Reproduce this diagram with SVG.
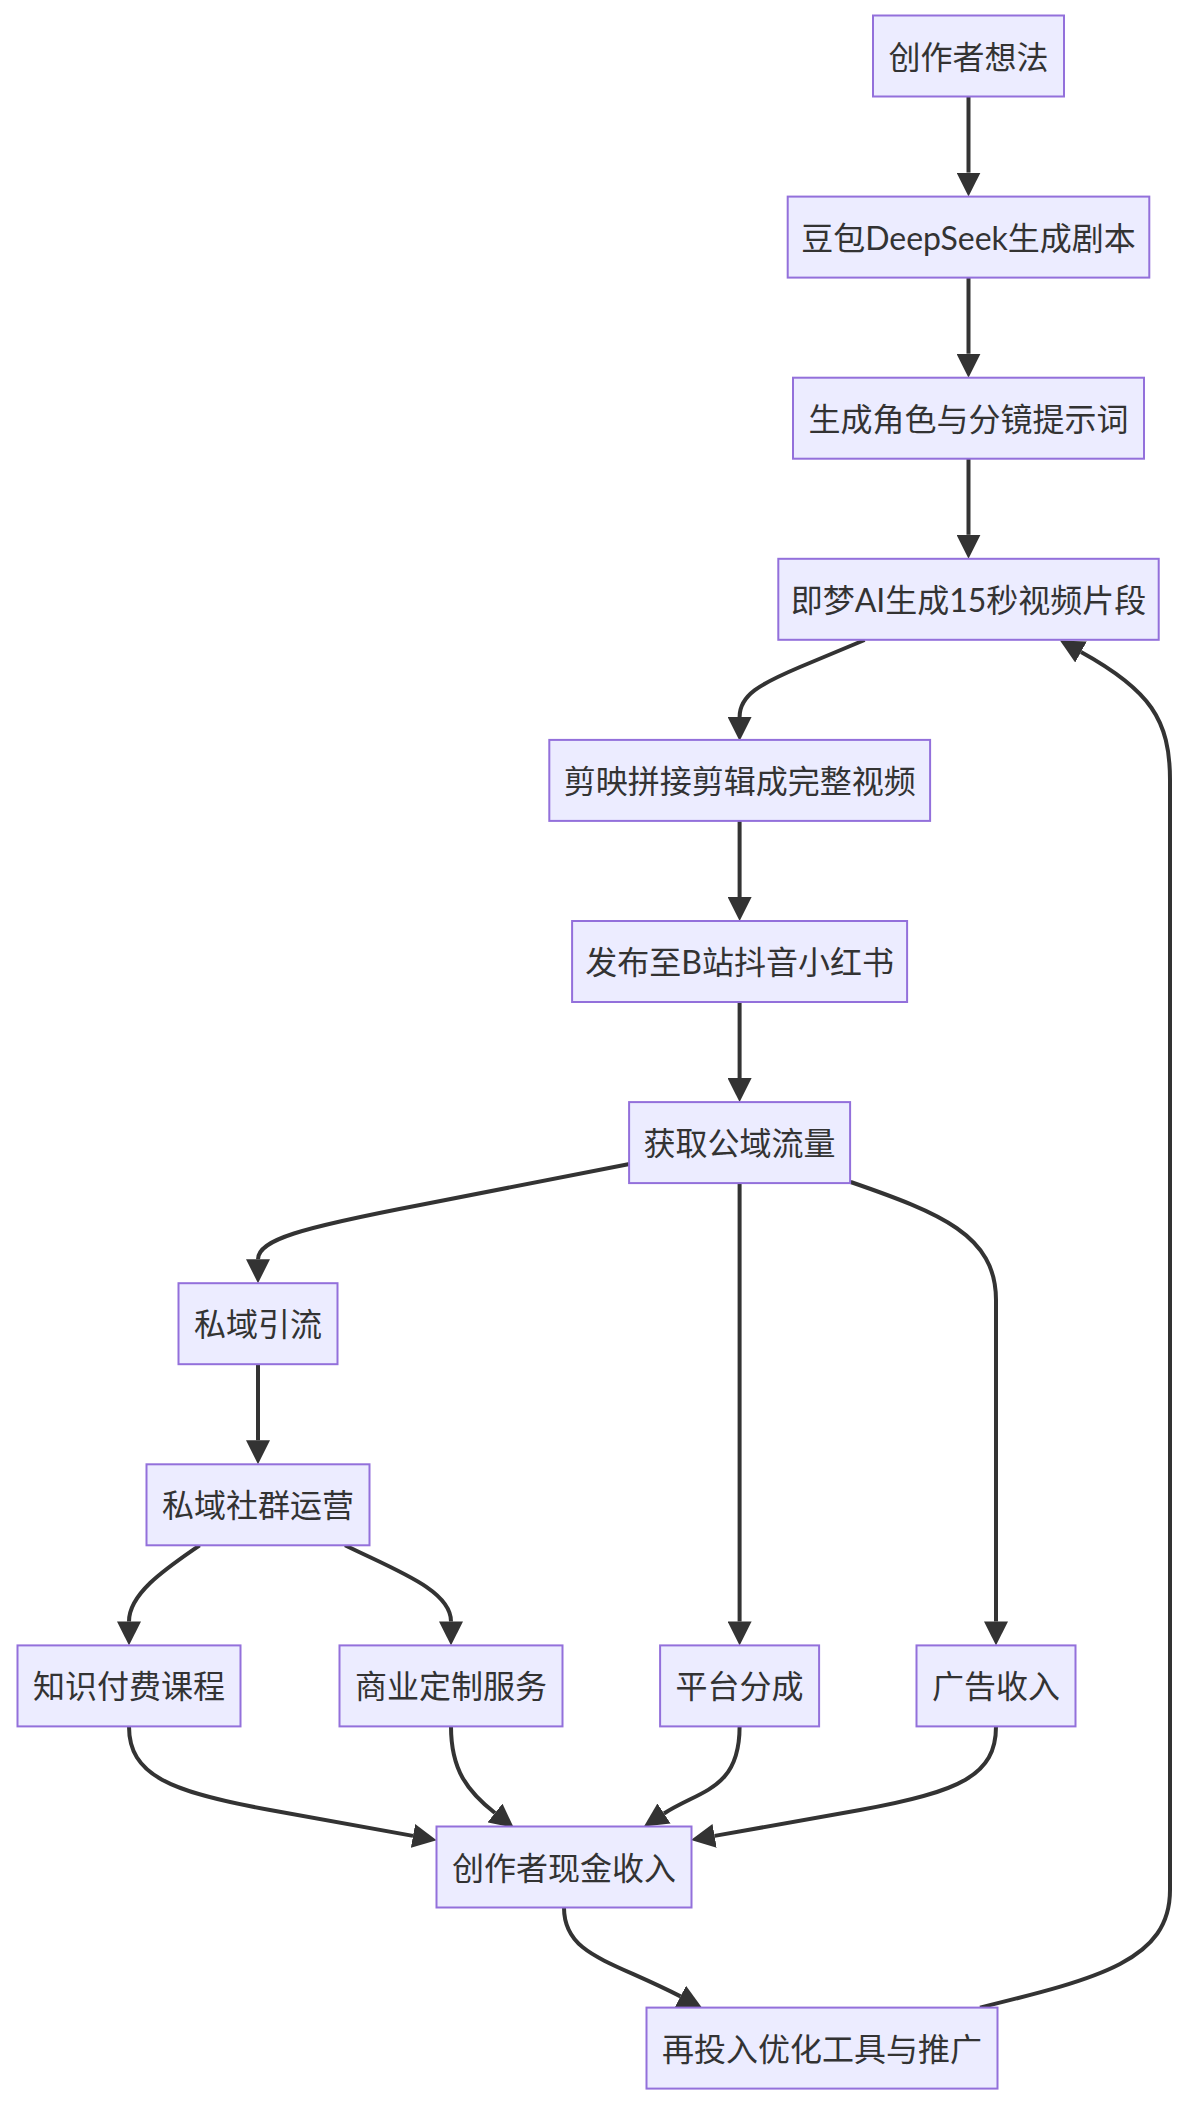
<svg xmlns="http://www.w3.org/2000/svg" width="1188" height="2108" viewBox="0 0 1188 2108">
<style>
.node rect{fill:#ECECFF;stroke:#9370DB;stroke-width:2}
.node text{font-family:Lato,"Noto Sans CJK SC",sans-serif;font-size:32px;fill:#333333;text-anchor:middle;dominant-baseline:central}
.edge path{fill:none;stroke:#333333;stroke-width:4;marker-end:url(#arrow)}
</style>
<defs>
<marker id="arrow" viewBox="0 0 10 10" markerUnits="userSpaceOnUse" markerWidth="24" markerHeight="24" refX="0" refY="5" orient="auto">
<path d="M0,0 L10,5 L0,10 z" fill="#333333"/>
</marker>
</defs>
<rect width="1188" height="2108" fill="#ffffff"/>
<g id="connectors" class="edge">
<path d="M968.5,96.5 L968.5,172.6"/>
<path d="M968.5,277.6 L968.5,353.7"/>
<path d="M968.5,458.7 L968.5,534.8"/>
<path d="M864.6,640 L800,667 C760,684 739.6,695 739.6,716.9"/>
<path d="M739.6,820.9 L739.6,897"/>
<path d="M739.6,1002 L739.6,1078.1"/>
<path d="M629.5,1164 L420,1205 C300,1228 258,1240 258,1259.2"/>
<path d="M739.6,1183.1 L739.6,1621.4"/>
<path d="M850.7,1182 C940,1213 996,1235 996,1300 L996,1621.4"/>
<path d="M258,1364.2 L258,1440.3"/>
<path d="M199.6,1545.3 C170,1566 129,1592 129,1621.4"/>
<path d="M345,1545.3 C395,1570 451,1590 451,1621.4"/>
<path d="M129,1726.4 C129,1775 170,1792 270,1810 L413,1835.9"/>
<path d="M451,1726.4 C451,1770 467.5,1791.3 495,1813"/>
<path d="M739.6,1726.4 C739.6,1790 700,1790 664,1813.5"/>
<path d="M996,1726.4 C996,1775 960,1792 860,1810 L714.6,1835.9"/>
<path d="M564,1907.5 C564,1955 610,1960 680.5,1996.4"/>
<path d="M980,2007.6 C1100,1978 1170,1960 1170,1890 L1170,780 C1170,720 1150,690 1081,652"/>
</g>
<g id="n1" class="node"><rect x="873" y="15.5" width="191" height="81"/><text x="968.5" y="56">创作者想法</text></g>
<g id="n2" class="node"><rect x="787.7" y="196.6" width="361.6" height="81"/><text x="968.5" y="237.1">豆包DeepSeek生成剧本</text></g>
<g id="n3" class="node"><rect x="793" y="377.7" width="351" height="81"/><text x="968.5" y="418.2">生成角色与分镜提示词</text></g>
<g id="n4" class="node"><rect x="778.3" y="558.8" width="380.4" height="81"/><text x="968.5" y="599.3">即梦AI生成15秒视频片段</text></g>
<g id="n5" class="node"><rect x="549.3" y="739.9" width="380.8" height="81"/><text x="739.7" y="780.4">剪映拼接剪辑成完整视频</text></g>
<g id="n6" class="node"><rect x="572.1" y="921" width="335" height="81"/><text x="739.6" y="961.5">发布至B站抖音小红书</text></g>
<g id="n7" class="node"><rect x="629.1" y="1102.1" width="221" height="81"/><text x="739.6" y="1142.6">获取公域流量</text></g>
<g id="n8" class="node"><rect x="178.5" y="1283.2" width="159" height="81"/><text x="258" y="1323.7">私域引流</text></g>
<g id="n9" class="node"><rect x="146.5" y="1464.3" width="223" height="81"/><text x="258" y="1504.8">私域社群运营</text></g>
<g id="n10" class="node"><rect x="17.5" y="1645.4" width="223" height="81"/><text x="129" y="1685.9">知识付费课程</text></g>
<g id="n11" class="node"><rect x="339.5" y="1645.4" width="223" height="81"/><text x="451" y="1685.9">商业定制服务</text></g>
<g id="n12" class="node"><rect x="660.1" y="1645.4" width="159" height="81"/><text x="739.6" y="1685.9">平台分成</text></g>
<g id="n13" class="node"><rect x="916.5" y="1645.4" width="159" height="81"/><text x="996" y="1685.9">广告收入</text></g>
<g id="n14" class="node"><rect x="436.5" y="1826.5" width="255" height="81"/><text x="564" y="1867">创作者现金收入</text></g>
<g id="n15" class="node"><rect x="646.5" y="2007.6" width="351" height="81"/><text x="822" y="2048.1">再投入优化工具与推广</text></g>
</svg>
